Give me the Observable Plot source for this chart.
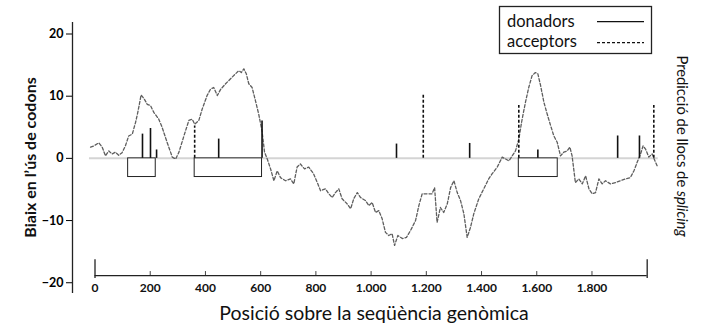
<!DOCTYPE html>
<html><head><meta charset="utf-8">
<script src="https://cdn.jsdelivr.net/npm/d3@7"></script>
<script src="https://cdn.jsdelivr.net/npm/@observablehq/plot@0.6"></script>
<style>
html,body{margin:0;padding:0;background:#fff;}
svg{font-family:Lato,"Open Sans",sans-serif;}
</style></head><body>
<div id="chart"></div>
<script>
// Codon usage bias curve
const curveX = [-16,-4,14,26,38,50,62,74,86,98,110,122,135,147,155,167,179,189,201,213,231,243,261,280,292,304,322,340,352,361,376,388,406,418,430,443,455,473,491,509,521,530,539,548,557,569,581,593,605,614,624,636,648,660,672,690,708,720,732,744,759,774,792,807,817,835,847,859,871,883,895,913,926,937,950,962,980,992,1004,1016,1028,1040,1052,1064,1076,1085,1097,1113,1128,1143,1161,1173,1185,1203,1221,1230,1239,1251,1263,1276,1288,1300,1312,1324,1336,1348,1360,1372,1390,1408,1426,1438,1457,1475,1487,1499,1511,1523,1535,1547,1559,1571,1583,1595,1604,1614,1626,1638,1650,1662,1674,1686,1698,1710,1720,1728,1740,1752,1765,1777,1789,1801,1813,1825,1837,1849,1867,1885,1903,1921,1939,1952,1964,1976,1985,1994,2006,2018,2030,2038];
const curveY = [1.8,2.0,2.5,1.8,0.4,1.2,0.7,1.0,0.5,0.9,2.0,3.6,3.9,5.8,7.4,10.2,9.5,8.7,8.5,7.4,6.3,5.0,2.6,0.2,-0.1,1.0,3.6,6.1,6.3,5.5,6.1,7.9,10.1,11.1,11.4,10.1,11.1,12.0,12.8,13.6,14.1,13.8,14.4,13.6,12.0,11.4,9.3,7.1,4.4,1.0,-0.1,-1.7,-3.6,-2.0,-3.1,-3.6,-3.3,-4.1,-1.4,-0.9,-1.7,-1.4,-2.5,-4.1,-5.2,-4.9,-5.7,-6.3,-5.5,-4.9,-6.5,-7.3,-8.1,-6.5,-5.5,-6.3,-6.8,-7.6,-7.1,-8.7,-8.4,-9.7,-11.9,-12.4,-12.1,-14.0,-12.4,-12.9,-12.7,-11.6,-10.0,-7.6,-5.7,-5.7,-5.7,-4.7,-10.3,-7.9,-8.7,-7.3,-4.7,-3.6,-5.5,-6.8,-8.9,-12.7,-11.1,-8.9,-6.5,-4.9,-3.3,-2.5,-1.4,0.2,-0.1,-0.4,0.4,1.2,3.1,6.3,9.0,11.4,13.3,13.8,13.6,11.7,9.0,7.1,5.3,3.6,2.6,0.4,1.0,1.2,1.8,0.4,-3.9,-3.3,-4.1,-2.8,-4.9,-5.7,-5.5,-3.3,-4.1,-3.6,-4.1,-3.9,-3.6,-3.3,-3.1,-2.0,-0.6,0.7,2.0,1.5,0.2,0.7,-0.6,-1.4];

// Splice site predictions
const donorX = [172,201,223,448,605,1092,1357,1604,1893,1972];
const donorH = [3.9,4.8,1.35,3.1,6.0,2.3,2.4,1.35,3.6,3.6];
const acceptorX = [361,1189,1535,2024];
const acceptorH = [5.2,10.3,8.5,8.5];

// Predicted exon boxes
const boxStart = [120,361,1535];
const boxEnd = [220,605,1676];
const boxDepth = -3;

// Axis ticks
const yTicks = [-20,-10,0,10,20];
const xTicks = [0,200,400,600,800,1000,1200,1400,1600,1800];
const xAxisEnd = 2000;

// Texts
const yTitle = "Biaix en l’ús de codons";
const xTitle = "Posició sobre la seqüència genòmica";
const rightTitle = ["Predicció de llocs de ", "splicing"];
const legendLabels = ["donadors", "acceptors"];

const curve = curveX.map((x,i)=>({x, y: curveY[i]}));
const donors = donorX.map((x,i)=>({x, h: donorH[i]}));
const acceptors = acceptorX.map((x,i)=>({x, h: acceptorH[i]}));
const boxes = boxStart.map((s,i)=>({x1:s, x2:boxEnd[i]}));

const xMin = -81.5, xMax = 2100, yMin = -21.73, yMax = 21.85;
const axY = -18.84, endTop = -16.3, endBot = -19.3, tickTop = -18.2, labY = -20.95;
const fmt = d => d3.format(",")(d).replace(/,/g, ".");
const yfmt = d => d3.format("")(d).replace("-", "−");

const chart = Plot.plot({
  width: 715, height: 330,
  marginLeft: 72, marginRight: 40.7, marginTop: 22, marginBottom: 37,
  style: {fontFamily: "Lato, 'Open Sans', sans-serif", background: "white"},
  x: {domain: [xMin, xMax], axis: null},
  y: {domain: [yMin, yMax], axis: null},
  marks: [
    Plot.ruleY([0], {x1: -20, x2: 2040, stroke: "#d4d4d4", strokeWidth: 2}),
    Plot.rect(boxes, {x1: "x1", x2: "x2", y1: 0, y2: boxDepth, fill: "white", stroke: "#222", strokeWidth: 1}),
    Plot.line(curve, {x: "x", y: "y", stroke: "#5e5e5e", strokeWidth: 1.3, strokeDasharray: "3,2"}),
    Plot.ruleX(donors, {x: "x", y1: 0, y2: "h", stroke: "#111", strokeWidth: 1.6}),
    Plot.ruleX(acceptors, {x: "x", y1: 0, y2: "h", stroke: "#111", strokeWidth: 1.6, strokeDasharray: "3,2"}),
    Plot.ruleX([xMin], {y1: yMin, y2: yMax, stroke: "#222", strokeWidth: 1.3}),
    Plot.axisY({ticks: yTicks, tickSize: 6, tickPadding: 3, fontSize: 12.5, fontWeight: "bold", tickFormat: yfmt, label: null}),
    // custom x axis
    Plot.ruleY([axY], {x1: 0, x2: xAxisEnd, stroke: "#222", strokeWidth: 1.3}),
    Plot.ruleX([0, xAxisEnd], {y1: endBot, y2: endTop, stroke: "#222", strokeWidth: 1.3}),
    Plot.ruleX(xTicks.filter(d => d > 0), {y1: axY, y2: tickTop, stroke: "#444", strokeWidth: 1}),
    Plot.text(xTicks, {x: d => d, y: labY, text: d => fmt(d), fontSize: 12, fontWeight: "bold", fill: "#111"})
  ]
});

const svg = d3.select(chart);
svg.append("text").attr("transform", "translate(36,157.5) rotate(-90)")
  .attr("text-anchor", "middle").attr("font-size", 16).attr("font-weight", "bold").attr("fill", "#111")
  .text(yTitle);
svg.append("text").attr("x", 374).attr("y", 320)
  .attr("text-anchor", "middle").attr("font-size", 19.5).attr("fill", "#111")
  .text(xTitle);
const rt = svg.append("text").attr("transform", "translate(677,146) rotate(90)")
  .attr("text-anchor", "middle").attr("font-size", 14.8).attr("fill", "#111");
rt.append("tspan").text(rightTitle[0]);
rt.append("tspan").attr("font-style", "italic").text(rightTitle[1]);

// legend
const lg = svg.append("g").attr("text-anchor", "start");
lg.append("rect").attr("x", 499.5).attr("y", 6.5).attr("width", 152).attr("height", 47)
  .attr("fill", "white").attr("stroke", "#222").attr("stroke-width", 1.3);
lg.append("text").attr("x", 507).attr("y", 27).attr("font-size", 16.5).attr("fill", "#111").text(legendLabels[0]);
lg.append("text").attr("x", 507).attr("y", 47).attr("font-size", 16.5).attr("fill", "#111").text(legendLabels[1]);
lg.append("line").attr("x1", 597).attr("x2", 644).attr("y1", 21.7).attr("y2", 21.7).attr("stroke", "#111").attr("stroke-width", 1.3);
lg.append("line").attr("x1", 597).attr("x2", 644).attr("y1", 42.7).attr("y2", 42.7).attr("stroke", "#111").attr("stroke-width", 1.3).attr("stroke-dasharray", "3,2");

document.getElementById("chart").appendChild(chart);
</script>
</body></html>
